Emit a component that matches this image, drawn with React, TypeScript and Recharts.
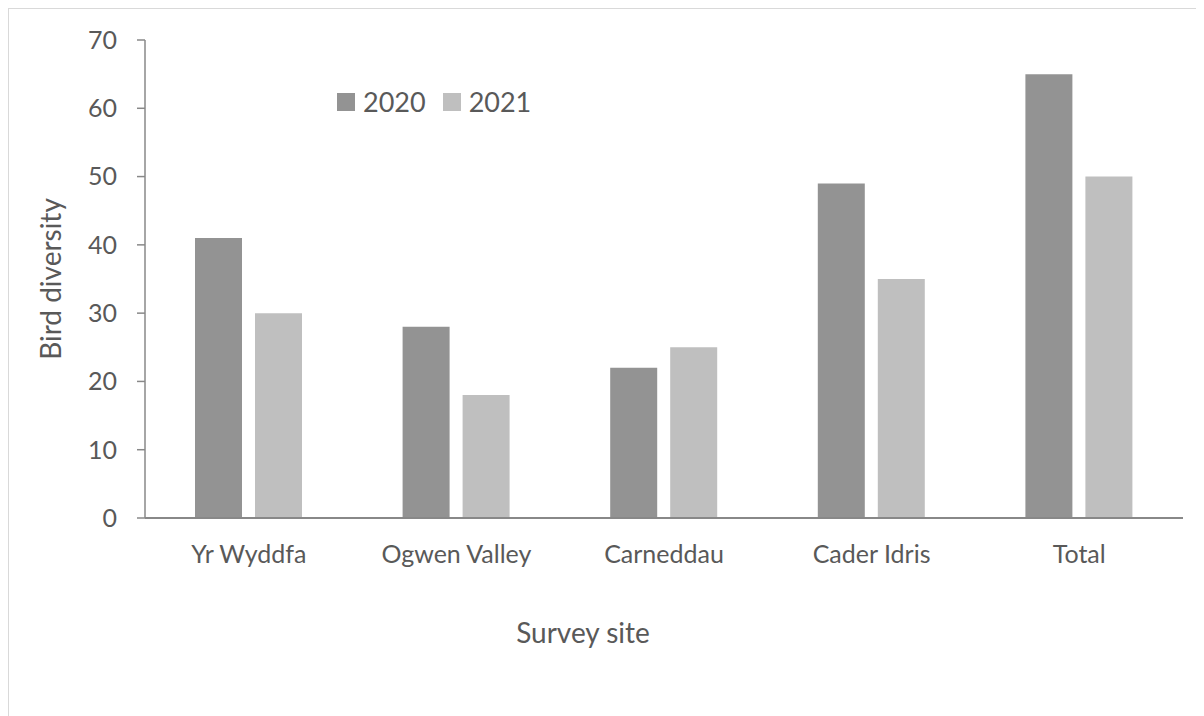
import React from "react";
import { BarChart, Bar, XAxis, YAxis, Legend } from "recharts";

const sites = ["Yr Wyddfa", "Ogwen Valley", "Carneddau", "Cader Idris", "Total"];
const values2020 = [41, 28, 22, 49, 65];
const values2021 = [30, 18, 25, 35, 50];
const yTicks = [0, 10, 20, 30, 40, 50, 60, 70];
const seriesNames = ["2020", "2021"];
const seriesColors = ["#939393", "#bfbfbf"];

const data = sites.map((s, i) => ({ site: s, y2020: values2020[i], y2021: values2021[i] }));

const FONT = "Lato, 'Open Sans', sans-serif";
const TEXT = "#595959";
const AXIS = "#888888";

const LegendContent = () => (
  <div style={{ display: "flex", alignItems: "center", fontFamily: FONT, fontSize: 27, color: TEXT }}>
    {seriesNames.map((n, i) => (
      <div key={n} style={{ display: "flex", alignItems: "center", marginRight: 17 }}>
        <div style={{ width: 18, height: 18, background: seriesColors[i], marginRight: 8 }} />
        <span>{n}</span>
      </div>
    ))}
  </div>
);

export default function App() {
  return (
    <div
      style={{
        width: 1196,
        height: 708,
        borderTop: "1px solid #d9d9d9",
        borderLeft: "1px solid #d9d9d9",
        boxSizing: "border-box",
        overflow: "hidden",
        position: "relative",
        background: "#fff",
      }}
    >
      <BarChart
        width={1195}
        height={707}
        data={data}
        margin={{ top: 31, right: 21, bottom: 168, left: 0 }}
        barSize={47}
        barGap={13}
      >
        <XAxis
          dataKey="site"
          height={30}
          axisLine={{ stroke: AXIS, strokeWidth: 2 }}
          tickLine={false}
          tickSize={0}
          tickMargin={27}
          tick={{ fill: TEXT, fontSize: 25, fontFamily: FONT }}
          label={{
            content: () => (
              <text x={574} y={623} textAnchor="middle" dominantBaseline="central" fill={TEXT} fontSize={28} fontFamily={FONT}>
                Survey site
              </text>
            ),
          }}
        />
        <YAxis
          width={136}
          domain={[0, 70]}
          ticks={yTicks}
          interval={0}
          axisLine={{ stroke: AXIS, strokeWidth: 1.5 }}
          tickLine={{ stroke: AXIS, strokeWidth: 1.5 }}
          tickSize={8}
          tickMargin={20}
          tick={{ fill: TEXT, fontSize: 25, fontFamily: FONT }}
          label={{
            content: (props: any) => {
              const vb = props.viewBox || { x: 0, y: 0, width: 0, height: 0 };
              const cx = 41;
              const cy = vb.y + vb.height / 2;
              return (
                <text
                  x={cx}
                  y={cy}
                  transform={`rotate(-90, ${cx}, ${cy})`}
                  textAnchor="middle"
                  dominantBaseline="central"
                  fill={TEXT}
                  fontSize={28}
                  fontFamily={FONT}
                >
                  Bird diversity
                </text>
              );
            },
          }}
        />
        <Legend
          verticalAlign="middle"
          align="center"
          layout="horizontal"
          content={<LegendContent />}
          wrapperStyle={{ position: "absolute", left: 328, top: 76, width: 260, height: 36 }}
        />
        <Bar dataKey="y2020" name="2020" fill={seriesColors[0]} isAnimationActive={false} />
        <Bar dataKey="y2021" name="2021" fill={seriesColors[1]} isAnimationActive={false} />
      </BarChart>
    </div>
  );
}
